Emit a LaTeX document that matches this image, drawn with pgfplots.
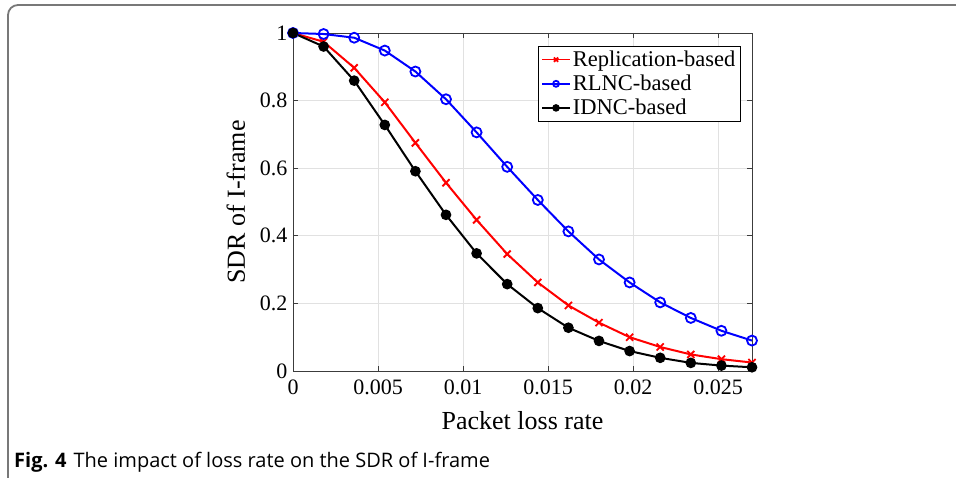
\documentclass[border=0pt]{standalone}
\usepackage{pgfplots}
\pgfplotsset{compat=1.18}
\usepackage{fontspec}
\setmainfont{Liberation Serif}
\newfontfamily\capfont{Open Sans}
\definecolor{framegray}{RGB}{120,120,120}
\definecolor{gridgray}{RGB}{225,225,225}
\definecolor{axgray}{RGB}{60,60,60}
\begin{document}
\begin{tikzpicture}
\useasboundingbox (0pt,0pt) rectangle (956pt,478pt);
\draw[framegray, line width=1.8pt] (8pt,0pt) -- (8pt,463pt) arc[start angle=180,end angle=90,radius=10pt] -- (956pt,473pt);
\begin{axis}[
  at={(293pt,107pt)}, anchor=south west,
  scale only axis, width=459pt, height=338pt,
  xmin=0, xmax=0.027, ymin=0, ymax=1,
  xtick={0,0.005,0.01,0.015,0.02,0.025},
  ytick={0,0.2,0.4,0.6,0.8,1},
  scaled x ticks=false,
  xticklabel style={/pgf/number format/fixed,/pgf/number format/precision=3, yshift=-5pt},
  yticklabel style={/pgf/number format/fixed,/pgf/number format/precision=1, xshift=-2pt},
  /pgf/number format/assume math mode=true,
  ticklabel style={font=\fontsize{22}{26}\selectfont},
  label style={font=\fontsize{26}{30}\selectfont},
  xlabel={Packet loss rate},
  ylabel={SDR of I-frame},
  xlabel style={yshift=-10pt},
  ylabel style={yshift=8pt},
  grid=major,
  major grid style={gridgray, line width=0.8pt},
  tick align=inside,
  major tick length=5pt,
  every tick/.style={axgray, line width=0.6pt},
  axis line style={axgray, line width=0.8pt},
  clip=false,
  legend style={at={(0.975,0.962)}, anchor=north east, font=\fontsize{22.5}{25}\selectfont, draw=black, line width=0.6pt, row sep=3pt, inner sep=3pt},
  legend cell align=left,
  legend image code/.code={\draw[mark repeat=2,mark phase=2,#1,line width=1.5pt,mark size=3pt] plot coordinates {(0pt,0pt) (14pt,0pt) (28pt,0pt)};},
]
\addplot[red, line width=2pt, mark=x, mark size=5pt, mark options={line width=1.8pt}] coordinates {
(0,1.0) (0.0018,0.974) (0.0036,0.897) (0.0054,0.795) (0.0072,0.675) (0.009,0.557)
(0.0108,0.447) (0.0126,0.346) (0.0144,0.262) (0.0162,0.194) (0.018,0.143)
(0.0198,0.100) (0.0216,0.071) (0.0234,0.049) (0.0252,0.035) (0.027,0.025)};
\addlegendentry{Replication-based}
\addplot[blue, line width=2pt, mark=o, mark size=5pt, mark options={line width=1.8pt}] coordinates {
(0,1.0) (0.0018,0.997) (0.0036,0.986) (0.0054,0.948) (0.0072,0.886) (0.009,0.804)
(0.0108,0.706) (0.0126,0.604) (0.0144,0.506) (0.0162,0.413) (0.018,0.330)
(0.0198,0.262) (0.0216,0.203) (0.0234,0.157) (0.0252,0.119) (0.027,0.090)};
\addlegendentry{RLNC-based}
\addplot[black, line width=2pt, mark=*, mark size=4.3pt] coordinates {
(0,1.0) (0.0018,0.960) (0.0036,0.859) (0.0054,0.728) (0.0072,0.591) (0.009,0.462)
(0.0108,0.348) (0.0126,0.257) (0.0144,0.186) (0.0162,0.128) (0.018,0.089)
(0.0198,0.059) (0.0216,0.039) (0.0234,0.024) (0.0252,0.016) (0.027,0.011)};
\addlegendentry{IDNC-based}
\end{axis}
\node[anchor=base west, inner sep=0pt, font=\capfont\fontsize{20}{24}\selectfont] at (14pt,10pt) {\textbf{Fig. 4}\hspace{7pt}The impact of loss rate on the SDR of I-frame};
\end{tikzpicture}
\end{document}
